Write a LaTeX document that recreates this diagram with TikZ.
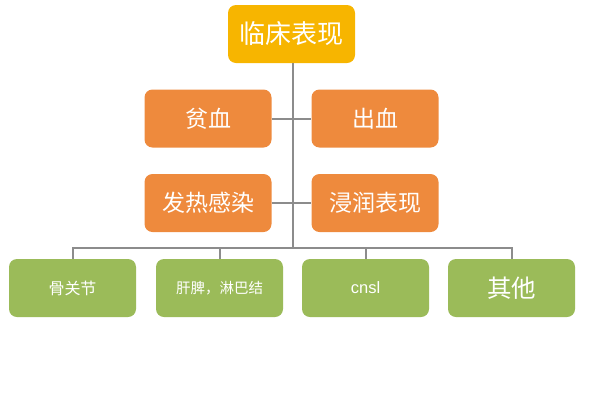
\documentclass[tikz,border=0pt]{standalone}
\usepackage{fontspec}
\newfontfamily\cjk{Noto Sans CJK SC}
\setmainfont{Liberation Sans}
\definecolor{topc}{HTML}{F7B500}
\definecolor{orc}{HTML}{EE8A3D}
\definecolor{grc}{HTML}{9BBB59}
\definecolor{linec}{HTML}{8C8C8C}
\tikzset{
  boxbase/.style={rounded corners=8pt, minimum width=127pt, minimum height=58pt, text=white, inner sep=0pt, font=\cjk},
  topbox/.style={boxbase, fill=topc, font=\cjk\fontsize{26}{30}\selectfont},
  midbox/.style={boxbase, fill=orc, font=\cjk\fontsize{23}{27}\selectfont},
  lowbox/.style={boxbase, fill=grc, font=\cjk\fontsize{16}{19}\selectfont},
  conn/.style={draw=linec, line width=2pt}
}
\begin{document}
\begin{tikzpicture}[x=1pt,y=-1pt]
\useasboundingbox (0,0) rectangle (600,400);
\node[topbox] (top) at (291.5,34) {临床表现};
\node[midbox] (a) at (208,118.5) {贫血};
\node[midbox] (b) at (375,118.5) {出血};
\node[midbox] (c) at (208,203) {发热感染};
\node[midbox] (d) at (375,203) {浸润表现};
\node[lowbox] (e) at (72.5,288) {骨关节};
\node[lowbox, font=\cjk\fontsize{14.5}{17}\selectfont] (f) at (219.5,288) {肝脾，淋巴结};
\node[lowbox, font=\fontsize{16.5}{19}\selectfont] (g) at (365.5,288) {cnsl};
\node[lowbox, font=\cjk\fontsize{24.5}{28}\selectfont] (h) at (511.5,288) {其他};
\coordinate (bus) at (293,248);
\draw[conn] (top.south) ++(1.5,0) coordinate (t0) -- (t0 |- bus);
\draw[conn] (a.east) -- (b.west);
\draw[conn] (c.east) -- (d.west);
\draw[conn] (e.north) ++(0.5,0) coordinate (e0) -- (e0 |- bus) -- (bus -| h.north) -- (h.north);
\draw[conn] (f.north) -- (f.north |- bus);
\draw[conn] (g.north) -- (g.north |- bus);
\end{tikzpicture}
\end{document}
